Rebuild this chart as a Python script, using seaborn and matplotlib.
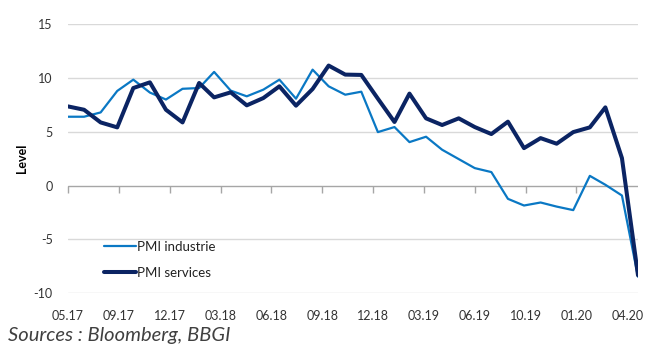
import matplotlib
matplotlib.use("Agg")
import matplotlib.pyplot as plt
import matplotlib.dates as mdates
import seaborn as sns
import pandas as pd
import numpy as np

months = pd.date_range("2017-05-31", periods=36, freq="ME")

pmi_industrie = [6.4, 6.4, 6.8, 8.8, 9.85, 8.65, 8.0, 9.0, 9.07, 10.57,
                 8.83, 8.3, 8.92, 9.85, 8.08, 10.78, 9.23, 8.45, 8.73, 4.97,
                 5.44, 4.04, 4.54, 3.33, 2.46, 1.62, 1.25, -1.24, -1.86, -1.58,
                 -1.96, -2.29, 0.9, 0.07, -0.93, -8.48]
pmi_services = [7.36, 7.05, 5.87, 5.41, 9.07, 9.6, 7.05, 5.87, 9.54, 8.2,
                8.67, 7.46, 8.14, 9.23, 7.43, 8.98, 11.16, 10.32, 10.29, 8.08,
                5.91, 8.55, 6.25, 5.63, 6.25, 5.44, 4.79, 5.94, 3.48, 4.41,
                3.89, 4.97, 5.41, 7.27, 2.55, -8.35]

series_names = ["PMI industrie", "PMI services"]
y_ticks = [-10, -5, 0, 5, 10, 15]
tick_step_days = 95
n_x_ticks = 12

sns.set_theme(style="white")
plt.rcParams["font.family"] = ["Lato", "DejaVu Sans"]

df = pd.DataFrame({"date": months, series_names[0]: pmi_industrie,
                   series_names[1]: pmi_services})

fig = plt.figure(figsize=(6.47, 3.45), dpi=100)
ax = fig.add_axes([68 / 647, 1 - 293 / 345, 570 / 647, 268.7 / 345])

for y in y_ticks:
    if y != 0:
        ax.axhline(y, color="#D9D9D9", lw=1.0, zorder=0)

sns.lineplot(data=df, x="date", y=series_names[0], ax=ax, color="#0A78C4",
             lw=1.6, label=series_names[0])
sns.lineplot(data=df, x="date", y=series_names[1], ax=ax, color="#0B2463",
             lw=2.9, label=series_names[1])

ax.set_ylim(-10, 15)
ax.set_xlim(months[0], months[-1])
ax.set_yticks(y_ticks)
ax.set_yticklabels([str(v) for v in y_ticks])

tick_dates = [months[0] + pd.Timedelta(days=tick_step_days * k) for k in range(n_x_ticks)]
ax.set_xticks(tick_dates)
ax.xaxis.set_major_formatter(mdates.DateFormatter("%m.%y"))

for s in ax.spines.values():
    s.set_visible(False)

ax.tick_params(axis="x", length=0, pad=12, labelsize=9, colors="#333333")
ax.tick_params(axis="y", length=0, pad=11, labelsize=9, colors="#333333")
ax.set_xlabel("")
ax.set_ylabel("Level", fontsize=9, fontweight="bold", color="#000000",
              va="center", ha="center")
ax.yaxis.set_label_coords(-0.081, 0.5)

# zero axis line with tick marks
ax.axhline(0, color="#A6A6A6", lw=1.0, zorder=1)
sec = ax.secondary_xaxis(10 / 25)
sec.set_xticks(tick_dates[:-1])
sec.tick_params(axis="x", direction="out", length=5, width=1, color="#A6A6A6",
                labelbottom=False, labeltop=False)
for s in sec.spines.values():
    s.set_visible(False)

leg = ax.legend(loc="lower left", bbox_to_anchor=(0.063, 0.052), frameon=False,
                fontsize=9.5, handlelength=2.4, handletextpad=0.1,
                labelspacing=1.1, borderpad=0, borderaxespad=0)
for t in leg.get_texts():
    t.set_color("#222222")

fig.text(8 / 647, 1 - 335 / 345, "Sources : Bloomberg, BBGI", fontsize=14.5,
         style="italic", color="#404040", va="center", ha="left")

fig.savefig("out.png", dpi=100)
